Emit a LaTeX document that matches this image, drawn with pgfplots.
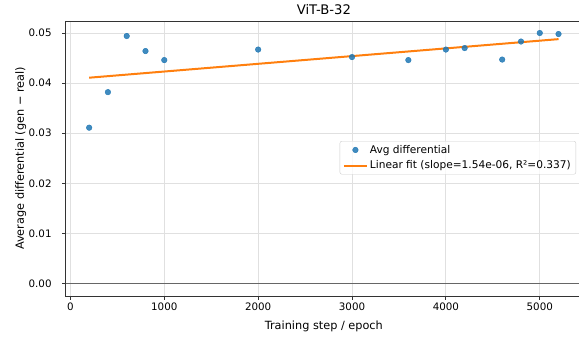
\documentclass[border=0pt]{standalone}
\usepackage{fontspec}
\setmainfont{DejaVu Sans}
\usepackage{pgfplots}
\pgfplotsset{compat=1.18}
\definecolor{mplblue}{HTML}{1F77B4}
\definecolor{mplorange}{HTML}{FF7F0E}
\definecolor{spine}{HTML}{333333}
\begin{document}
\begin{tikzpicture}
\begin{axis}[
  at={(65.7bp,43bp)}, anchor=south west,
  scale only axis, width=516.3bp, height=275bp,
  xmin=-50, xmax=5450, ymin=-0.0025, ymax=0.0524,
  axis line style={spine, line width=0.9bp},
  xtick={0,1000,2000,3000,4000,5000},
  ytick={0,0.01,0.02,0.03,0.04,0.05},
  xtick pos=bottom, ytick pos=left,
  tick align=outside, major tick length=3.6bp,
  tick style={spine, line width=0.9bp},
  grid=major,
  major grid style={line width=0.8bp, black!12},
  /pgf/number format/assume math mode=true,
  xticklabel style={font=\fontsize{10.3bp}{12bp}\selectfont, /pgf/number format/set thousands separator={}},
  yticklabel style={font=\fontsize{10.3bp}{12bp}\selectfont, xshift=-7bp, /pgf/number format/fixed, /pgf/number format/fixed zerofill, /pgf/number format/precision=2},
  scaled y ticks=false,
  title={ViT-B-32},
  title style={at={(axis description cs:0.5,1)}, anchor=base, yshift=1bp, font=\fontsize{13.2bp}{15bp}\selectfont},
  xlabel={Training step / epoch},
  xlabel style={at={(axis description cs:0.5,0)}, anchor=base, yshift=-33.3bp, font=\fontsize{11.3bp}{13bp}\selectfont},
  ylabel={Average differential (gen − real)},
  ylabel style={at={([xshift=-41.7bp]axis description cs:0,0.5)}, anchor=base, font=\fontsize{11.3bp}{13bp}\selectfont},
  legend cell align=left,
  legend style={at={(0.9884,0.5636)}, anchor=north east, draw=black!20, rounded corners=2bp, fill=white, fill opacity=0.8, text opacity=1,
    font=\fontsize{10.6bp}{12bp}\selectfont, inner xsep=3bp, inner ysep=2bp, row sep=2bp},
  legend image code/.code={\draw[mark repeat=2,mark phase=2,#1] plot coordinates {(0bp,0bp) (11.5bp,0bp) (23bp,0bp)};},
]
\addplot[gray!80!black, line width=1bp, forget plot] coordinates {(-50,0) (5450,0)};
\addplot[only marks, mark=*, mark size=2.8bp, color=mplblue, mark options={draw=none, fill=mplblue, fill opacity=0.85}] coordinates {
(200,0.0311) (400,0.0382) (600,0.0494) (800,0.0464) (1000,0.0446) (2000,0.0467)
(3000,0.0452) (3600,0.0446) (4000,0.0467) (4200,0.0470) (4600,0.0447) (4800,0.0483)
(5000,0.0500) (5200,0.0498)};
\addlegendentry{Avg differential}
\addplot[mplorange, line width=2bp] coordinates {(200,0.04108) (5200,0.04878)};
\addlegendentry{Linear fit (slope=1.54e-06, R²=0.337)}
\end{axis}
\pgfresetboundingbox
\path[use as bounding box] (0,0) rectangle (579bp,339bp);
\end{tikzpicture}
\end{document}
